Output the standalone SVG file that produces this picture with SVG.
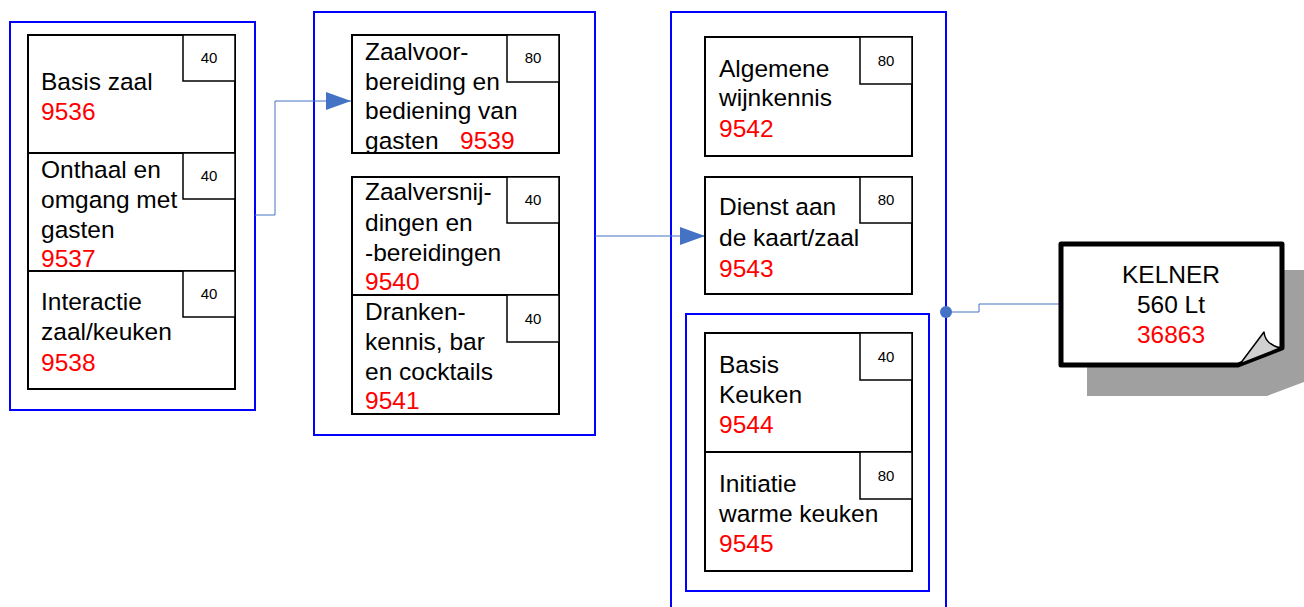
<svg xmlns="http://www.w3.org/2000/svg" width="1304" height="607" viewBox="0 0 1304 607">
<style>
.grp{fill:none;stroke:#0000ff;stroke-width:2}
.box{fill:#fff;stroke:#000;stroke-width:2}
.sm{fill:#fff;stroke:#000;stroke-width:1.5}
.t{font-family:"Liberation Sans",Arial,sans-serif;font-size:24.5px;fill:#000}
.r{fill:#ff0000}
.n{font-family:"Liberation Sans",Arial,sans-serif;font-size:15px;fill:#000;text-anchor:middle}
.c{fill:none;stroke:#4472c4;stroke-width:1}
</style>
<defs>
<marker id="arr" markerWidth="26" markerHeight="18" refX="25" refY="9" orient="auto" markerUnits="userSpaceOnUse">
<path d="M0,0 L25,9 L0,18 Z" fill="#4472c4"/>
</marker>
</defs>
<rect width="1304" height="607" fill="#fff"/>
<g id="groups">
<rect class="grp" x="10" y="22" width="245" height="388"/>
<rect class="grp" x="314" y="12" width="281" height="423"/>
<rect class="grp" x="671" y="12" width="275" height="600"/>
<rect class="grp" x="686" y="314" width="243" height="277"/>
</g>
<g id="connectors">
<polyline class="c" points="255,215 275,215 275,101 351,101" marker-end="url(#arr)"/>
<polyline class="c" points="595,236 705,236" marker-end="url(#arr)"/>
<polyline class="c" points="946,312 979,312 979,304 1062,304"/>
<circle cx="946" cy="312" r="6" fill="#4472c4"/>
</g>
<g id="n9536">
<rect class="box" x="28" y="35" width="207" height="118"/>
<rect class="sm" x="183" y="35" width="52" height="46"/>
<text class="n" x="209" y="63">40</text>
<text class="t" x="41" y="90">Basis zaal</text>
<text class="t r" x="41" y="120">9536</text>
</g>
<g id="n9537">
<rect class="box" x="28" y="153" width="207" height="118"/>
<rect class="sm" x="183" y="153" width="52" height="46"/>
<text class="n" x="209" y="181">40</text>
<text class="t" x="41" y="178">Onthaal en</text>
<text class="t" x="41" y="208">omgang met</text>
<text class="t" x="41" y="238">gasten</text>
<text class="t r" x="41" y="267">9537</text>
</g>
<g id="n9538">
<rect class="box" x="28" y="271" width="207" height="118"/>
<rect class="sm" x="183" y="271" width="52" height="46"/>
<text class="n" x="209" y="299">40</text>
<text class="t" x="41" y="310">Interactie</text>
<text class="t" x="41" y="340">zaal/keuken</text>
<text class="t r" x="41" y="371">9538</text>
</g>
<g id="n9539">
<rect class="box" x="352" y="35" width="207" height="118"/>
<rect class="sm" x="507" y="35" width="52" height="47"/>
<text class="n" x="533" y="63">80</text>
<text class="t" x="365" y="60">Zaalvoor-</text>
<text class="t" x="365" y="90">bereiding en</text>
<text class="t" x="365" y="119">bediening van</text>
<text class="t" x="365" y="149">gasten</text>
<text class="t r" x="460" y="149">9539</text>
</g>
<g id="n9540">
<rect class="box" x="352" y="177" width="207" height="118"/>
<rect class="sm" x="507" y="177" width="52" height="46"/>
<text class="n" x="533" y="205">40</text>
<text class="t" x="365" y="200">Zaalversnij-</text>
<text class="t" x="365" y="231">dingen en</text>
<text class="t" x="365" y="261">-bereidingen</text>
<text class="t r" x="365" y="290">9540</text>
</g>
<g id="n9541">
<rect class="box" x="352" y="295" width="207" height="119"/>
<rect class="sm" x="507" y="295" width="52" height="47"/>
<text class="n" x="533" y="324">40</text>
<text class="t" x="365" y="320">Dranken-</text>
<text class="t" x="365" y="350">kennis, bar</text>
<text class="t" x="365" y="380">en cocktails</text>
<text class="t r" x="365" y="409">9541</text>
</g>
<g id="n9542">
<rect class="box" x="705" y="37" width="207" height="119"/>
<rect class="sm" x="860" y="37" width="52" height="47"/>
<text class="n" x="886" y="66">80</text>
<text class="t" x="719" y="77">Algemene</text>
<text class="t" x="719" y="106">wijnkennis</text>
<text class="t r" x="719" y="137">9542</text>
</g>
<g id="n9543">
<rect class="box" x="705" y="177" width="207" height="117"/>
<rect class="sm" x="860" y="177" width="52" height="46"/>
<text class="n" x="886" y="205">80</text>
<text class="t" x="719" y="215">Dienst aan</text>
<text class="t" x="719" y="246">de kaart/zaal</text>
<text class="t r" x="719" y="277">9543</text>
</g>
<g id="n9544">
<rect class="box" x="705" y="333" width="207" height="119"/>
<rect class="sm" x="860" y="333" width="52" height="47"/>
<text class="n" x="886" y="362">40</text>
<text class="t" x="719" y="373">Basis</text>
<text class="t" x="719" y="403">Keuken</text>
<text class="t r" x="719" y="433">9544</text>
</g>
<g id="n9545">
<rect class="box" x="705" y="452" width="207" height="119"/>
<rect class="sm" x="860" y="452" width="52" height="47"/>
<text class="n" x="886" y="481">80</text>
<text class="t" x="719" y="492">Initiatie</text>
<text class="t" x="719" y="522">warme keuken</text>
<text class="t r" x="719" y="552">9545</text>
</g>
<g id="kelner">
<path d="M1087,270 L1304,270 L1304,382 L1267,396 L1087,396 Z" fill="#a0a0a0"/>
<path d="M1061,244 L1282,244 L1282,348 L1238,365 L1061,365 Z" fill="#fff" stroke="#000" stroke-width="5" stroke-linejoin="round"/>
<path d="M1240,364 L1264,332 Q1265,344 1280,348 Z" fill="#d0d0d0" stroke="#000" stroke-width="1.5" stroke-linejoin="round"/>
<text class="t" x="1171" y="283" text-anchor="middle">KELNER</text>
<text class="t" x="1171" y="313" text-anchor="middle">560 Lt</text>
<text class="t r" x="1171" y="343" text-anchor="middle">36863</text>
</g>
</svg>
